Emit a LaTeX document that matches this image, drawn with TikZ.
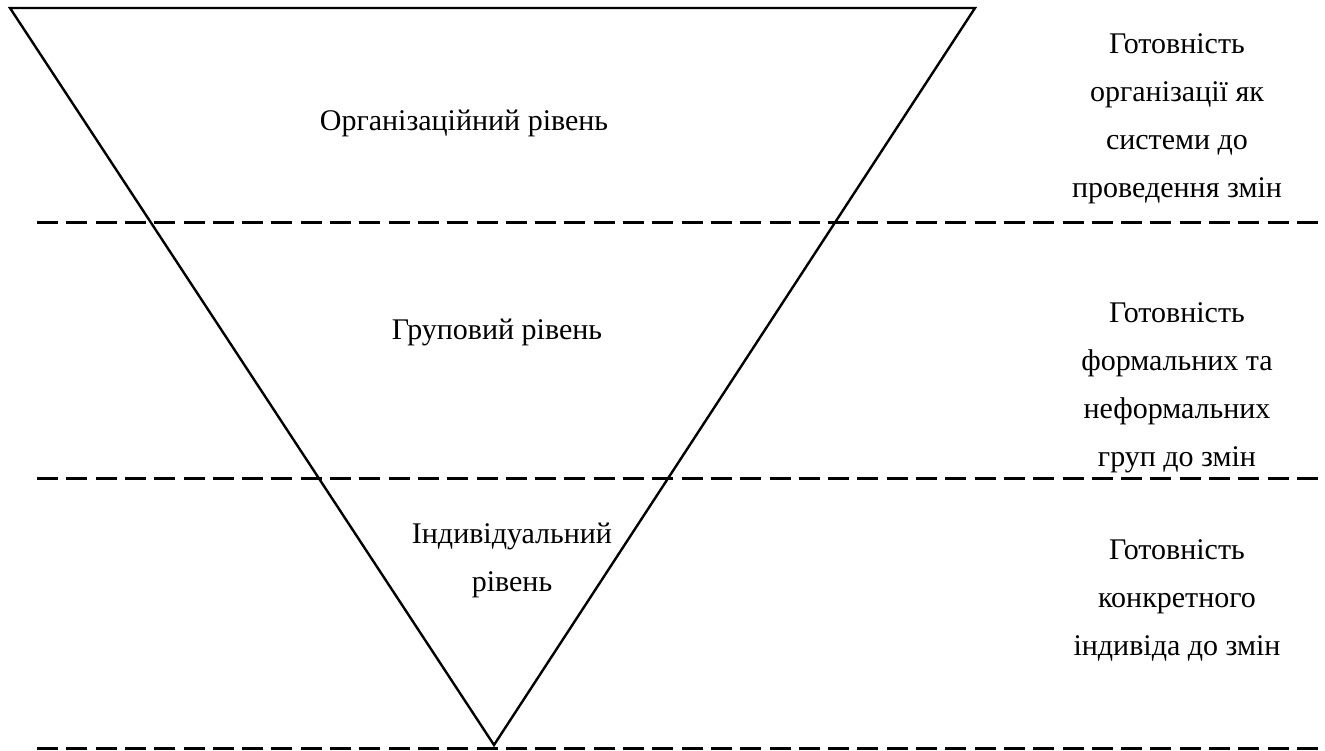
\documentclass[tikz,border=0pt]{standalone}
\usepackage{fontspec}
\setmainfont{Liberation Serif}
\usetikzlibrary{positioning}
\tikzset{lvl/.style={font=\fontsize{30}{48}\selectfont,align=center,inner sep=0pt},
  sep/.style={line width=3pt,dash pattern=on 21pt off 8.3pt}}
\begin{document}
\begin{tikzpicture}[x=1pt,y=-1pt]
\useasboundingbox (0,0) rectangle (1325,751);
\coordinate (tl) at (10,8); \coordinate (tr) at (975,8); \coordinate (apex) at (494,745);
\draw[line width=2.4pt,line join=miter] (tl)--(tr)--(apex)--cycle;
\foreach \y/\n in {223/a,478/b,748/c}{
  \coordinate (s\n) at (37,\y); \coordinate (e\n) at (1322,\y);
  \draw[sep] (s\n)--(e\n);}
\node[lvl] (org) at (464,123) {Організаційний рівень};
\node[lvl] (grp) at (497,332) {Груповий рівень};
\node[lvl] (ind) at (512,560) {Індивідуальний\\рівень};
\node[lvl] (rorg) at (1177,119) {Готовність\\організації як\\системи до\\проведення змін};
\node[lvl] (rgrp) at (1177,388) {Готовність\\формальних та\\неформальних\\груп до змін};
\node[lvl] (rind) at (1177,600) {Готовність\\конкретного\\індивіда до змін};
\end{tikzpicture}
\end{document}
